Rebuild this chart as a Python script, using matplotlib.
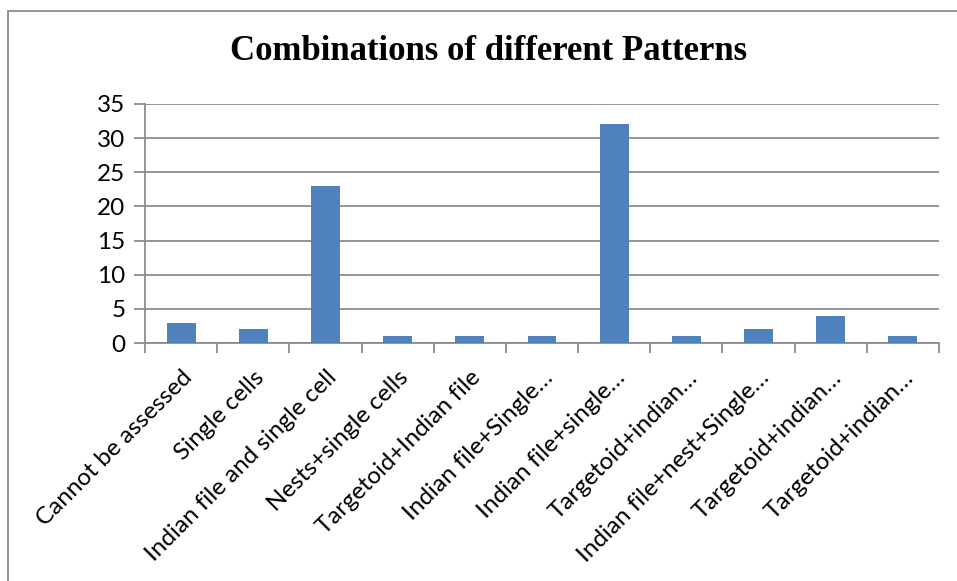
import matplotlib
matplotlib.use("Agg")
import matplotlib.pyplot as plt
from matplotlib.patches import Rectangle
import numpy as np

categories = [
    "Cannot be assessed",
    "Single cells",
    "Indian file and single cell",
    "Nests+single cells",
    "Targetoid+Indian file",
    "Indian file+Single…",
    "Indian file+single…",
    "Targetoid+indian…",
    "Indian file+nest+Single…",
    "Targetoid+indian…",
    "Targetoid+indian…",
]
counts = [3, 2, 23, 1, 1, 1, 32, 1, 2, 4, 1]
y_ticks = [0, 5, 10, 15, 20, 25, 30, 35]
title = "Combinations of different Patterns"

bar_color = "#4F81BD"
grid_color = "#8C8C8C"
label_font = ["Lato", "DejaVu Sans"]

fig = plt.figure(figsize=(9.57, 5.81), dpi=100)
fig.patch.set_facecolor("white")

# chart frame (only the top and left edges fall inside the canvas)
frame = Rectangle((8 / 957, -0.5), 1.5, 0.5 + (581 - 11) / 581,
                  transform=fig.transFigure, fill=False,
                  edgecolor="#8A8A8A", linewidth=1.3)
fig.patches.append(frame)

ax = fig.add_axes([145 / 957, 1 - 343 / 581, (939 - 145) / 957, (343 - 104) / 581])

x = np.arange(len(categories))
ax.bar(x, counts, width=0.4, color=bar_color, zorder=3)

ax.set_xlim(-0.5, len(categories) - 0.5)
ax.set_ylim(0, 35)
ax.set_yticks(y_ticks)
ax.yaxis.grid(True, color=grid_color, linewidth=1.3)
ax.set_axisbelow(True)

for side in ("top", "right"):
    ax.spines[side].set_visible(False)
for side in ("left", "bottom"):
    ax.spines[side].set_color(grid_color)
    ax.spines[side].set_linewidth(1.3)

ax.tick_params(axis="y", length=8, width=1.3, color=grid_color, pad=6,
               labelsize=17.5)
for lbl in ax.get_yticklabels():
    lbl.set_fontfamily(label_font)

# x ticks sit on category boundaries; labels are placed at category centres
ax.set_xticks(np.arange(len(categories) + 1) - 0.5)
ax.set_xticklabels([])
ax.tick_params(axis="x", length=7, width=1.3, color=grid_color)
ax.set_xticks(x, minor=True)
ax.set_xticklabels(categories, minor=True, rotation=45, ha="right",
                   rotation_mode="anchor", fontsize=17.5, family=label_font)
ax.tick_params(axis="x", which="minor", length=0, pad=17)

fig.text(489 / 957, 1 - 52 / 581, title, ha="center", va="center",
         fontsize=25, fontweight="bold", family="Liberation Serif")

fig.savefig("out.png", dpi=100, facecolor="white")
